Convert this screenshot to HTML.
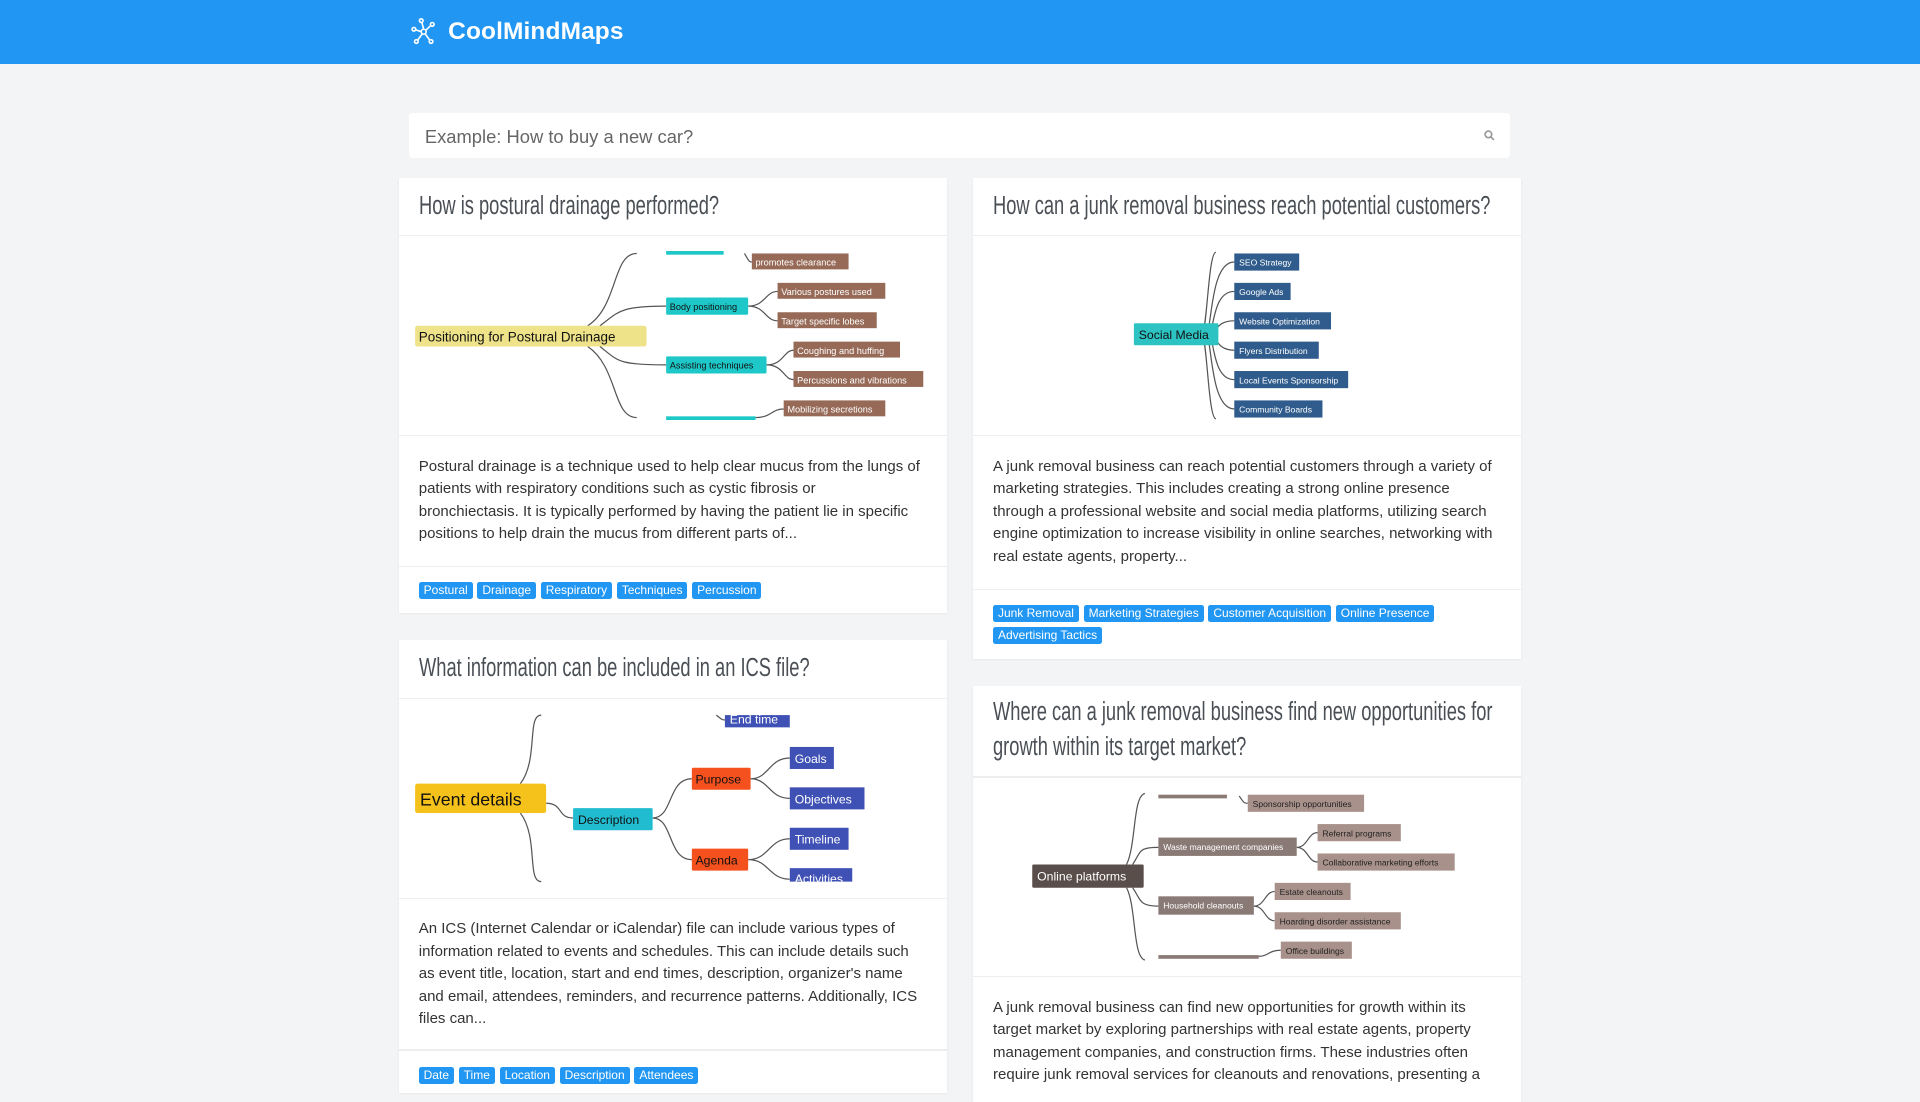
<!DOCTYPE html>
<html><head><meta charset="utf-8">
<style>
html,body{margin:0;padding:0}
body{zoom:1.22449;width:1568px;height:882px;overflow:hidden;background:#f3f4f6;font-family:"Liberation Sans",sans-serif;position:relative}
.hdr{position:absolute;left:0;top:0;width:1568px;height:52px;background:#2196f3}
.logo{position:absolute;left:366px;top:15px;color:#fff;font-size:20px;font-weight:bold;letter-spacing:0.1px}
.search{position:absolute;left:334px;top:92px;width:899px;height:37px;background:#fff;border-radius:3px}
.search span{position:absolute;left:13px;top:11px;font-size:15px;color:#666}
.card{position:absolute;background:#fff;box-shadow:0 1px 2px rgba(0,0,0,.06)}
.t{position:absolute;left:16px;font-family:"Liberation Sans Narrow","Liberation Sans",sans-serif;font-size:21px;color:#4a4f55;transform:scaleX(0.712);transform-origin:left top;line-height:28px;white-space:nowrap}
.ln{position:absolute;left:0;right:0;height:1px;background:#eceef0}
.d{position:absolute;left:16px;right:16px;font-size:12.25px;line-height:18.4px;color:#333}
.tags{position:absolute;left:16px;right:40px;font-size:0}
.tag{display:inline-block;background:#2196f3;color:#fff;font-size:9.8px;padding:1px 4px;border-radius:2px;margin:0 4px 4px 0;line-height:12px}
svg text{font-family:"Liberation Sans",sans-serif}
</style></head><body>
<div class="hdr">
<svg style="position:absolute;left:334px;top:14px" width="24" height="24" viewBox="0 0 24 24" fill="none" stroke="#fff" stroke-width="1.3"><circle cx="12" cy="12" r="2"/><circle cx="4" cy="10" r="1.5"/><circle cx="10" cy="3" r="1.5"/><circle cx="19" cy="6" r="1.5"/><circle cx="6" cy="20" r="1.5"/><circle cx="18" cy="20" r="1.5"/><path d="M5.5 10.5L10 12M10.5 4.5L12 10M17.8 7L13.5 11M7 19L11 13.5M17 19L13 13.5"/></svg>
<div class="logo">CoolMindMaps</div></div>
<div class="search"><span>Example: How to buy a new car?</span>
<svg style="position:absolute;left:878px;top:14px" width="9" height="9" viewBox="0 0 10 10" fill="none" stroke="#999" stroke-width="1.5"><circle cx="4" cy="4" r="3"/><path d="M6.3 6.3L9 9"/></svg></div>

<div class="card" style="left:326px;top:145px;width:447px;height:356px">
<div class="t" style="top:9px">How is postural drainage performed?</div>
<div class="ln" style="top:47px"></div><div class="ln" style="top:210px"></div>
<div class="d" style="top:227px;right:12px">Postural drainage is a technique used to help clear mucus from the lungs of patients with respiratory conditions such as cystic fibrosis or<br>bronchiectasis. It is typically performed by having the patient lie in specific positions to help drain the mucus from different parts of...</div>
<div class="ln" style="top:317px"></div>
<div class="tags" style="top:330px"><span class="tag">Postural</span><span class="tag">Drainage</span><span class="tag">Respiratory</span><span class="tag">Techniques</span><span class="tag">Percussion</span></div>
</div>

<div class="card" style="left:795px;top:145px;width:447px;height:393px">
<div class="t" style="top:9px">How can a junk removal business reach potential customers?</div>
<div class="ln" style="top:47px"></div><div class="ln" style="top:210px"></div>
<div class="d" style="top:227px">A junk removal business can reach potential customers through a variety of marketing strategies. This includes creating a strong online presence through a professional website and social media platforms, utilizing search engine optimization to increase visibility in online searches, networking with real estate agents, property...</div>
<div class="ln" style="top:336px"></div>
<div class="tags" style="top:349px"><span class="tag">Junk Removal</span><span class="tag">Marketing Strategies</span><span class="tag">Customer Acquisition</span><span class="tag">Online Presence</span><span class="tag">Advertising Tactics</span></div>
</div>

<div class="card" style="left:326px;top:523px;width:447px;height:370px">
<div class="t" style="top:9px">What information can be included in an ICS file?</div>
<div class="ln" style="top:47px"></div><div class="ln" style="top:210px"></div>
<div class="d" style="top:227px">An ICS (Internet Calendar or iCalendar) file can include various types of information related to events and schedules. This can include details such as event title, location, start and end times, description, organizer's name and email, attendees, reminders, and recurrence patterns. Additionally, ICS files can...</div>
<div class="ln" style="top:334px"></div>
<div class="tags" style="top:348px"><span class="tag">Date</span><span class="tag">Time</span><span class="tag">Location</span><span class="tag">Description</span><span class="tag">Attendees</span></div>
</div>

<div class="card" style="left:795px;top:560px;width:447px;height:340px">
<div class="t" style="top:8px">Where can a junk removal business find new opportunities for<br>growth within its target market?</div>
<div class="ln" style="top:74px"></div><div class="ln" style="top:237px"></div>
<div class="d" style="top:254px">A junk removal business can find new opportunities for growth within its target market by exploring partnerships with real estate agents, property management companies, and construction firms. These industries often require junk removal services for cleanouts and renovations, presenting a</div>
</div>

<svg style="position:absolute;left:0;top:0" width="1568" height="882" font-size="8">
<g fill="none" stroke="#555" stroke-width="1">
<path d="M480 266C505 250 500 207 520 207"/><path d="M490 266C505 255 505 250 544 250"/><path d="M490 283C505 295 505 298 544 298"/><path d="M480 283C505 300 500 341 520 341"/>
<path d="M611 250C625 250 625 238 635 238M611 250C625 250 625 262 635 262M626 298C640 298 640 286 648 286M626 298C640 298 640 310 648 310M608 207C612 214 612 214 614 214M617 341C630 341 630 334 640 334"/>
</g>
<rect x="339" y="266" width="189" height="17" fill="#efe38a" rx="2"/><text x="342" y="279" font-size="11" fill="#111">Positioning for Postural Drainage</text>
<rect x="544" y="205" width="47" height="3" fill="#1ec8c8"/><rect x="544" y="340" width="73" height="3" fill="#1ec8c8"/>
<rect x="544" y="243" width="67" height="14" fill="#1ec8c8" rx="1"/><text x="547" y="253" font-size="7.5" fill="#111">Body positioning</text>
<rect x="544" y="291" width="82" height="14" fill="#1ec8c8" rx="1"/><text x="547" y="301" font-size="7.5" fill="#111">Assisting techniques</text>
<g fill="#966a57"><rect x="614" y="207" width="79" height="13"/><rect x="635" y="231" width="88" height="13"/><rect x="635" y="255" width="81" height="13"/><rect x="648" y="279" width="87" height="13"/><rect x="648" y="303" width="106" height="13"/><rect x="640" y="327" width="83" height="13"/></g>
<g fill="#fff" font-size="7.5"><text x="617" y="217">promotes clearance</text><text x="638" y="241">Various postures used</text><text x="638" y="265">Target specific lobes</text><text x="651" y="289">Coughing and huffing</text><text x="651" y="313">Percussions and vibrations</text><text x="643" y="337">Mobilizing secretions</text></g>

<g fill="none" stroke="#555" stroke-width="1">
<path d="M985 273C990 270 988 214 1008 214M987 273C992 270 990 238 1008 238M989 273C994 270 994 262 1008 262M989 273C994 276 994 286 1008 286M987 273C992 276 990 310 1008 310M985 273C990 276 988 334 1008 334M982 273C986 265 987 206 993 206M982 273C986 282 987 342 993 342"/>
</g>
<rect x="926" y="264" width="69" height="18" fill="#2dc3c3" rx="1"/><text x="930" y="277" font-size="10" fill="#111">Social Media</text>
<g fill="#2f5c8c"><rect x="1008" y="207" width="53" height="14"/><rect x="1008" y="231" width="46" height="14"/><rect x="1008" y="255" width="79" height="14"/><rect x="1008" y="279" width="69" height="14"/><rect x="1008" y="303" width="93" height="14"/><rect x="1008" y="327" width="72" height="14"/></g>
<g fill="#fff" font-size="7"><text x="1012" y="217">SEO Strategy</text><text x="1012" y="241">Google Ads</text><text x="1012" y="265">Website Optimization</text><text x="1012" y="289">Flyers Distribution</text><text x="1012" y="313">Local Events Sponsorship</text><text x="1012" y="337">Community Boards</text></g>

<g fill="none" stroke="#555" stroke-width="1">
<path d="M425 640C440 620 430 584 442 584M425 664C440 684 430 720 442 720M446 656C460 656 455 668 468 668M533 668C550 668 545 636 565 636M533 668C550 668 545 702 565 702M613 636C628 636 628 619 645 619M613 636C628 636 628 652 645 652M611 702C628 702 628 685 645 685M611 702C628 702 628 718 645 718M585 584C590 588 590 588 592 588"/>
</g>
<rect x="339" y="640" width="107" height="24" fill="#f5c21b" rx="2"/><text x="343" y="658" font-size="14.5" fill="#111">Event details</text>
<rect x="468" y="660" width="65" height="18" fill="#22bcd0" rx="1"/><text x="472" y="673" font-size="10" fill="#111">Description</text>
<rect x="565" y="627" width="48" height="18" fill="#f4511e" rx="1"/><text x="568" y="640" font-size="10" fill="#111">Purpose</text>
<rect x="565" y="693" width="46" height="18" fill="#f4511e" rx="1"/><text x="568" y="706" font-size="10" fill="#111">Agenda</text>
<g fill="#3f51b5"><rect x="592" y="584" width="53" height="10"/><rect x="645" y="610" width="36" height="18"/><rect x="645" y="643" width="61" height="18"/><rect x="645" y="676" width="48" height="18"/><rect x="645" y="709" width="51" height="11"/></g>
<g fill="#fff" font-size="10"><text x="596" y="591">End time</text><text x="649" y="623">Goals</text><text x="649" y="656">Objectives</text><text x="649" y="689">Timeline</text><text x="649" y="721">Activities</text></g>

<g fill="none" stroke="#555" stroke-width="1">
<path d="M920 706C928 690 925 650 935 648M925 706C932 695 930 692 946 692M925 725C932 735 930 740 946 740M920 725C928 740 925 782 935 784M1059 692C1068 692 1068 680 1076 680M1059 692C1068 692 1068 704 1076 704M1024 740C1033 740 1033 728 1041 728M1024 740C1033 740 1033 752 1041 752M1028 781C1036 781 1036 776 1046 776M1012 650C1016 656 1016 656 1019 656"/>
</g>
<rect x="843" y="706" width="91" height="19" fill="#5a4e4b" rx="1"/><text x="847" y="719" font-size="10" fill="#fff">Online platforms</text>
<g fill="#8a7a75"><rect x="946" y="649" width="56" height="3"/><rect x="946" y="684" width="113" height="15"/><rect x="946" y="732" width="78" height="15"/><rect x="946" y="780" width="82" height="3"/></g>
<g fill="#fff" font-size="7"><text x="950" y="694">Waste management companies</text><text x="950" y="742">Household cleanouts</text></g>
<g fill="#a8918a"><rect x="1019" y="649" width="95" height="14"/><rect x="1076" y="673" width="68" height="14"/><rect x="1076" y="697" width="112" height="14"/><rect x="1041" y="721" width="62" height="14"/><rect x="1041" y="745" width="103" height="14"/><rect x="1046" y="769" width="58" height="14"/></g>
<g fill="#222" font-size="7"><text x="1023" y="659">Sponsorship opportunities</text><text x="1080" y="683">Referral programs</text><text x="1080" y="707">Collaborative marketing efforts</text><text x="1045" y="731">Estate cleanouts</text><text x="1045" y="755">Hoarding disorder assistance</text><text x="1050" y="779">Office buildings</text></g>
</svg>
</body></html>
